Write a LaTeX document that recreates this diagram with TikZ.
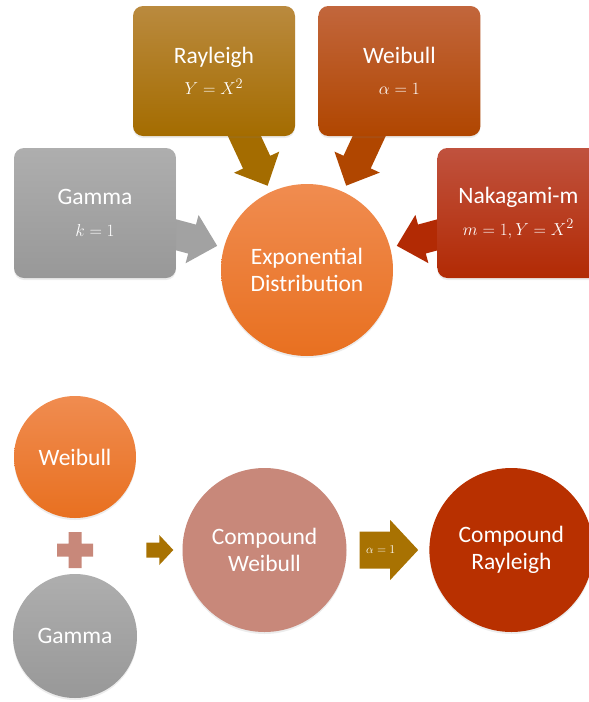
\documentclass[tikz,border=0pt]{standalone}
\usepackage{fontspec}
\setmainfont{Carlito}
\usepackage{tikz}
\usetikzlibrary{positioning,calc,backgrounds,shadows}

\definecolor{raytop}{RGB}{186,138,62}
\definecolor{raybot}{RGB}{164,108,0}
\definecolor{weitop}{RGB}{194,102,60}
\definecolor{weibot}{RGB}{176,70,0}
\definecolor{gamtop}{RGB}{174,174,174}
\definecolor{gambot}{RGB}{152,152,152}
\definecolor{naktop}{RGB}{192,82,62}
\definecolor{nakbot}{RGB}{178,42,4}
\definecolor{exptop}{RGB}{240,140,80}
\definecolor{expbot}{RGB}{232,112,32}
\definecolor{rose}{RGB}{200,136,122}
\definecolor{rust}{RGB}{184,48,0}
\definecolor{ochre}{RGB}{168,114,2}

\newcommand\labelsize{\fontsize{23.5}{27}\selectfont}
\newcommand\mathsize{\fontsize{19}{22}\selectfont}

% block arrow: #1 fill, #2 tail, #3 tip, #4 half shaft, #5 half head, #6 head length
\newcommand\fatarrow[6]{%
  \path ($(#3)!#6!(#2)$) coordinate (head);
  \fill[#1] ($(#2)!#4!90:(#3)$) -- ($(head)!#4!-90:(#2)$) -- ($(head)!#5!-90:(#2)$)
    -- (#3) -- ($(head)!#5!90:(#2)$) -- ($(head)!#4!90:(#2)$) -- ($(#2)!#4!-90:(#3)$) -- cycle;
}

\begin{document}
\begin{tikzpicture}[x=1pt,y=1pt,
  box/.style={rectangle,rounded corners=10pt,minimum width=162pt,minimum height=130pt,
    text=white,align=center,font=\labelsize,
    drop shadow={shadow xshift=0pt,shadow yshift=-2pt,opacity=.15}},
  disc/.style={circle,inner sep=0pt,text=white,align=center,font=\labelsize,
    drop shadow={shadow xshift=0pt,shadow yshift=-2pt,opacity=.15}}]
  \useasboundingbox (0,0) rectangle (589,-702);

  % four special cases around the exponential
  \node[box,top color=raytop,bottom color=raybot] (ray) at (214,-71) {Rayleigh\\[4.5pt]{\mathsize$Y=X^2$}};
  \node[box,top color=weitop,bottom color=weibot,right=23pt of ray] (wei) {Weibull\\[4.5pt]{\mathsize$\alpha=1$}};
  \node[box,top color=gamtop,bottom color=gambot] (gam) at (95,-213) {Gamma\\[4.5pt]{\mathsize$k=1$}};
  \node[box,top color=naktop,bottom color=nakbot,right=261pt of gam] (nak) {Nakagami-m\\[4.5pt]{\mathsize$m=1,Y=X^2$}};
  \node[disc,minimum size=172pt,top color=exptop,bottom color=expbot] (expo) at (307,-270) {Exponential\\Distribution};

  \coordinate (raytip) at ($(expo)!93pt!(ray)$);
  \coordinate (weitip) at ($(expo)!93pt!(wei)$);
  \coordinate (gamtip) at ($(expo)!93pt!(gam)$);
  \coordinate (naktip) at ($(expo)!93pt!(nak)$);
  \begin{scope}[on background layer]
    \fatarrow{raybot}{ray.center}{raytip}{15pt}{25pt}{26pt}
    \fatarrow{weibot}{wei.center}{weitip}{15pt}{25pt}{26pt}
    \fatarrow{gambot!90!white}{gam.center}{gamtip}{15pt}{25pt}{26pt}
    \fatarrow{nakbot}{nak.center}{naktip}{15pt}{25pt}{26pt}
  \end{scope}

  % compound model
  \node[disc,minimum size=122pt,top color=exptop,bottom color=expbot] (wb) at (75,-457) {Weibull};
  \node[disc,minimum size=124pt,top color=gamtop,bottom color=gambot] (gm) at (75,-636) {Gamma};
  \coordinate (plus) at (75,-550);
  \fill[rose] ($(plus)+(-18,-6.5)$) rectangle ($(plus)+(18,6.5)$)
    ($(plus)+(-6.5,-18)$) rectangle ($(plus)+(6.5,18)$);
  \node[disc,minimum size=164pt,fill=rose] (cw) at (264.5,-550) {Compound\\Weibull};
  \node[disc,minimum size=164pt,fill=rust,right=82.5pt of cw] (cr) {Compound\\Rayleigh};

  \coordinate (intail) at ($(cw.west)+(-36,0)$);
  \coordinate (inhead) at ($(cw.west)+(-9,0)$);
  \fatarrow{ochre}{intail}{inhead}{7.5pt}{15pt}{14pt}
  \coordinate (atail) at ($(cw.east)+(13,0)$);
  \coordinate (ahead) at ($(cr.west)+(-11,0)$);
  \fatarrow{ochre}{atail}{ahead}{18.5pt}{30pt}{28pt}
  \node[font=\fontsize{12}{14}\selectfont,text=white] (alab) at ($(atail)!.36!(ahead)$) {$\alpha=1$};
\end{tikzpicture}
\end{document}
